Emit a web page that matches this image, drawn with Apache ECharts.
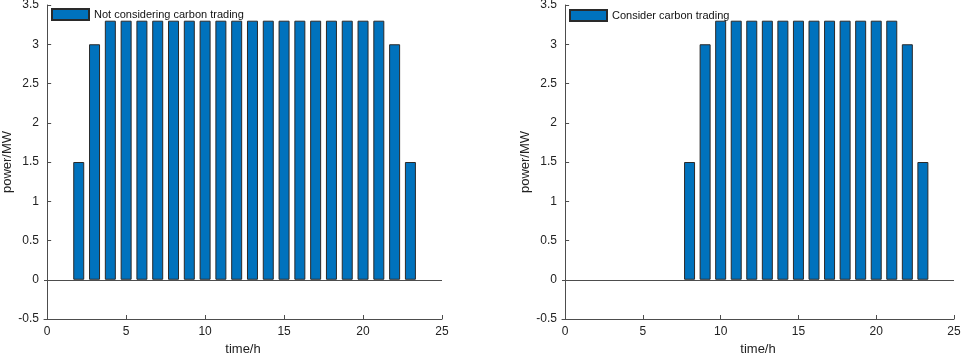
<!DOCTYPE html>
<html>
<head>
<meta charset="utf-8">
<script src="https://cdn.jsdelivr.net/npm/echarts@6/dist/echarts.min.js"></script>
<style>
html,body{margin:0;padding:0;background:#fff;}
#main{width:962px;height:356px;}
</style>
</head>
<body>
<div id="main"></div>
<script>
// hours of the day
var hours=[1,2,3,4,5,6,7,8,9,10,11,12,13,14,15,16,17,18,19,20,21,22,23,24];
// output without carbon trading (MW)
var noCarbon=[0,1.5,3,3.3,3.3,3.3,3.3,3.3,3.3,3.3,3.3,3.3,3.3,3.3,3.3,3.3,3.3,3.3,3.3,3.3,3.3,3,1.5,0];
// output with carbon trading (MW)
var withCarbon=[0,0,0,0,0,0,0,1.5,3,3.3,3.3,3.3,3.3,3.3,3.3,3.3,3.3,3.3,3.3,3.3,3.3,3,1.5,0];
var xTicks=[0,5,10,15,20,25];
var yTicks=[-0.5,0,0.5,1,1.5,2,2.5,3,3.5];
var names=['Not considering carbon trading','Consider carbon trading'];

var font='Liberation Sans';
var axisColor='#4d4d4d';
var barColor='#0072BD';

// zero-height bars sit on the baseline anyway, so leave them out
function pairs(vals){
    var out=[];
    for(var i=0;i<vals.length;i++){
        if(vals[i]!==0) out.push([hours[i],vals[i]]);
    }
    return out;
}

function xAx(idx){
    return {
        gridIndex:idx,type:'value',min:-0.2,max:xTicks[xTicks.length-1],
        name:'time/h',nameLocation:'middle',nameGap:24,
        nameTextStyle:{fontFamily:font,fontSize:13,color:'#222'},
        axisLine:{onZero:false,lineStyle:{color:axisColor,width:1}},
        axisTick:{inside:true,length:4,customValues:xTicks,lineStyle:{color:axisColor}},
        axisLabel:{fontFamily:font,fontSize:12,color:'#222',margin:7,customValues:xTicks},
        splitLine:{show:false}
    };
}
function yAx(idx){
    return {
        gridIndex:idx,type:'value',min:yTicks[0],max:yTicks[yTicks.length-1],interval:0.5,
        name:'power/MW',nameLocation:'middle',nameGap:30,
        nameTextStyle:{fontFamily:font,fontSize:13,color:'#222'},
        axisLine:{show:true,lineStyle:{color:axisColor,width:1}},
        axisTick:{show:true,inside:true,length:4,lineStyle:{color:axisColor}},
        axisLabel:{fontFamily:font,fontSize:12,color:'#222',margin:5},
        splitLine:{show:false}
    };
}
function barSeries(idx,vals){
    return {
        name:names[idx],type:'bar',xAxisIndex:idx,yAxisIndex:idx,
        data:pairs(vals),barWidth:11,
        itemStyle:{color:barColor,borderColor:'#2a2a2a',borderWidth:1},
        markLine:{
            silent:true,symbol:'none',label:{show:false},
            lineStyle:{color:axisColor,type:'solid',width:1},
            data:[{yAxis:0}]
        }
    };
}

var myChart=echarts.init(document.getElementById('main'));
var option={
    animation:false,
    backgroundColor:'#fff',
    legend:[
        {data:[names[0]],left:51,top:8,padding:0,itemWidth:37,itemHeight:11,
         icon:'rect',textStyle:{fontFamily:font,fontSize:11,color:'#111'}},
        {data:[names[1]],left:569,top:9,padding:0,itemWidth:37,itemHeight:11,
         icon:'rect',textStyle:{fontFamily:font,fontSize:11,color:'#111'}}
    ],
    grid:[
        {left:44,top:5,width:398,height:314,outerBoundsMode:'none'},
        {left:562,top:5,width:392,height:314,outerBoundsMode:'none'}
    ],
    xAxis:[xAx(0),xAx(1)],
    yAxis:[yAx(0),yAx(1)],
    series:[barSeries(0,noCarbon),barSeries(1,withCarbon)]
};
myChart.setOption(option);
</script>
</body>
</html>
